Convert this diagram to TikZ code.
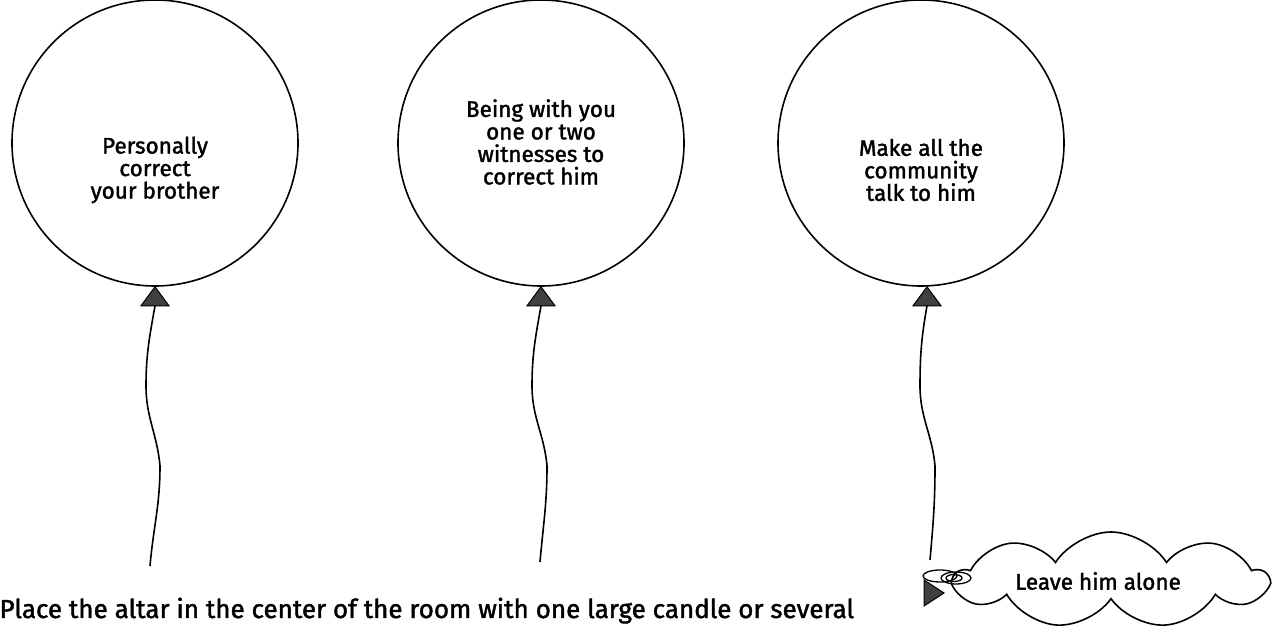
\documentclass[tikz,border=0pt]{standalone}
\usepackage{fontspec}
\setmainfont{Fira Sans}[FakeBold=1.6]
\usetikzlibrary{calc, positioning, shapes.symbols}

\begin{document}
\begin{tikzpicture}[x=1pt, y=1pt,
  balloon/.style={draw, line width=1.6pt, circle, minimum size=286pt, inner sep=0pt},
  knot/.style={draw, line width=1pt, fill=black!75, line join=miter},
  string/.style={line width=1.6pt},
  txt/.style={align=center, font=\fontsize{22.5}{22.5}\selectfont},
  puff/.style={draw, line width=1.6pt, cloud, cloud puffs=9, cloud puff arc=115, aspect=3.2, minimum width=312pt, minimum height=96pt, inner sep=0pt}]
\useasboundingbox (0,0) rectangle (1274,626);

\node[balloon] (b1) at (155,483) {};
\node[balloon] (b2) at (541,483) {};
\node[balloon] (b3) at (921,483) {};

\node[txt] (t1) at (155,456) {Personally\\correct\\your brother};
\node[txt] (t2) at (541,484) {Being with you\\one or two\\witnesses to\\correct him};
\node[txt] (t3) at (921,456) {Make all the\\community\\talk to him};

\filldraw[knot] (b1.south) -- ++(-14,-19) -- ++(28,0) -- cycle;
\filldraw[knot] (b2.south) -- ++(-14,-19) -- ++(28,0) -- cycle;
\filldraw[knot] ($(b3.south)+(6,0)$) -- ++(-14,-19) -- ++(28,0) -- cycle;

\coordinate (k1) at ($(b1.south)+(0,-19)$);
\coordinate (k2) at ($(b2.south)+(0,-19)$);
\coordinate (k3) at ($(b3.south)+(6,-19)$);
\coordinate (e1) at (150,60);
\coordinate (e2) at (540,64);
\coordinate (e3) at (930,66);

\draw[string] (k1) to[out=-100,in=90] (146,240) to[out=-90,in=95] (160,160) to[out=-90,in=85] (e1);
\draw[string] (k2) to[out=-100,in=90] (532,240) to[out=-90,in=95] (547,160) to[out=-90,in=85] (e2);
\draw[string] (k3) to[out=-100,in=90] (920,240) to[out=-90,in=95] (935,160) to[out=-90,in=85] (e3);

\node[puff] (cl) at (1111,46) {};
\node[txt] (t4) at (1098,45) {Leave him alone};
\draw[line width=1.3pt] (956,48) ellipse (15 and 6);
\draw[line width=1.3pt] (954,48) ellipse (8 and 3.5);
\draw[line width=1.3pt] (940,50) ellipse (17 and 6);
\filldraw[knot] (924,46) -- (924,20) -- (944,33) -- cycle;

\node[txt, font=\fontsize{26}{26}\selectfont, anchor=base west] (note) at (-4,8) {Place the altar in the center of the room with one large candle or several};
\end{tikzpicture}
\end{document}
